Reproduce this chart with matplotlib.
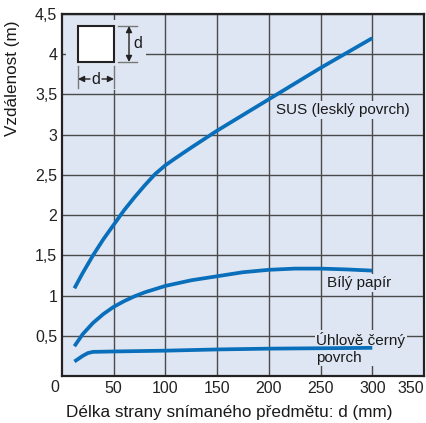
import matplotlib
matplotlib.use("Agg")
import matplotlib.pyplot as plt
from matplotlib.patches import Rectangle, FancyArrowPatch

plt.rcParams['font.family'] = ['Liberation Sans', 'DejaVu Sans']

# Detection distance vs. side length of the sensed object
sus_x = [12, 20, 30, 40, 50, 60, 70, 80, 90, 100, 110, 125, 150, 200, 250, 300]
sus_y = [1.09, 1.28, 1.50, 1.70, 1.88, 2.06, 2.22, 2.37, 2.51, 2.62, 2.71, 2.84, 3.05, 3.44, 3.83, 4.20]

paper_x = [12, 20, 30, 40, 50, 60, 70, 80, 100, 125, 150, 175, 200, 225, 250, 275, 300]
paper_y = [0.37, 0.52, 0.66, 0.77, 0.86, 0.93, 0.99, 1.04, 1.12, 1.19, 1.24, 1.29, 1.32, 1.335, 1.335, 1.325, 1.31]

black_x = [12, 20, 25, 30, 50, 100, 150, 200, 250, 300]
black_y = [0.18, 0.25, 0.285, 0.30, 0.305, 0.315, 0.33, 0.34, 0.345, 0.35]

x_ticks = [50, 100, 150, 200, 250, 300, 350]
x_ticklabels = ['50', '100', '150', '200', '250', '300', '350']
y_ticks = [0.5, 1, 1.5, 2, 2.5, 3, 3.5, 4, 4.5]
y_ticklabels = ['0,5', '1', '1,5', '2', '2,5', '3', '3,5', '4', '4,5']

bg = '#dfe6f3'
blue = '#0a6fba'
grid_c = '#4a4a4a'
txt_c = '#1a1a1a'

fig = plt.figure(figsize=(4.26, 4.23), dpi=100)
T = fig.transFigure
def fx(p): return p / 426
def fy(p): return 1 - p / 423

ax = fig.add_axes([fx(62), fy(376), fx(424) - fx(62), fy(14) - fy(376)])
ax.set_facecolor(bg)
ax.set_xlim(0, 350)
ax.set_ylim(0, 4.5)
ax.set_xticks(x_ticks)
ax.set_xticklabels(x_ticklabels)
ax.set_yticks(y_ticks)
ax.set_yticklabels(y_ticklabels)
ax.tick_params(length=0, labelsize=11.5, colors='#222222', pad=3.5)
ax.get_xticklabels()[-1].set_horizontalalignment('right')
ax.get_xticklabels()[-1].set_x(351)
ax.grid(True, color=grid_c, lw=1.0, zorder=1)
ax.set_axisbelow(True)
for s in ax.spines.values():
    s.set_color('#222222')
    s.set_linewidth(1.6)

ax.text(-7, -0.048, '0', ha='center', va='top', fontsize=11.5, color='#222222')

for xs, ys in [(sus_x, sus_y), (paper_x, paper_y), (black_x, black_y)]:
    ax.plot(xs, ys, color=blue, lw=2.7, solid_capstyle='butt', zorder=4)

box = dict(facecolor=bg, edgecolor='none', pad=1.5)
ax.text(207, 3.31, 'SUS (lesklý povrch)', fontsize=11, ha='left', va='center',
        color=txt_c, bbox=box, zorder=3)
ax.text(256, 1.16, 'Bílý papír', fontsize=11, ha='left', va='center',
        color=txt_c, bbox=box, zorder=3)
ax.text(246, 0.55, 'Úhlově černý\npovrch', fontsize=11, ha='left', va='top',
        color=txt_c, bbox=dict(facecolor=bg, edgecolor='none', pad=1.0),
        linespacing=1.25, zorder=3)

fig.text(fx(229.5), fy(412), 'Délka strany snímaného předmětu: d (mm)', fontsize=12.3,
         color=txt_c, ha='center', va='center')
fig.text(fx(13), fy(78), 'Vzdálenost (m)', fontsize=12.3, color=txt_c,
         ha='center', va='center', rotation=90)

# Inset sketch of the square target with its side length d
fig.patches.append(Rectangle((fx(66), fy(90)), fx(146) - fx(66), fy(20) - fy(90),
                             transform=T, facecolor=bg, edgecolor='none', zorder=2))
fig.patches.append(Rectangle((fx(78), fy(62)), fx(114) - fx(78), fy(26) - fy(62),
                             transform=T, facecolor='white', edgecolor='#222222', lw=1.5, zorder=3))
ext = '#777777'
for yy in (26, 62):
    fig.add_artist(plt.Line2D([fx(118), fx(137)], [fy(yy), fy(yy)], transform=T, color=ext, lw=1, zorder=3))
for xx in (78, 114):
    fig.add_artist(plt.Line2D([fx(xx), fx(xx)], [fy(66), fy(88)], transform=T, color=ext, lw=1, zorder=3))
fig.add_artist(FancyArrowPatch((fx(129), fy(26)), (fx(129), fy(62)), transform=T,
                               arrowstyle='<|-|>', mutation_scale=9, color='#222222', lw=1,
                               shrinkA=0, shrinkB=0, zorder=3))
fig.add_artist(FancyArrowPatch((fx(78), fy(79)), (fx(90), fy(79)), transform=T,
                               arrowstyle='<|-', mutation_scale=9, color='#222222', lw=1,
                               shrinkA=0, shrinkB=0, zorder=3))
fig.add_artist(FancyArrowPatch((fx(102), fy(79)), (fx(114), fy(79)), transform=T,
                               arrowstyle='-|>', mutation_scale=9, color='#222222', lw=1,
                               shrinkA=0, shrinkB=0, zorder=3))
fig.text(fx(96), fy(79), 'd', ha='center', va='center', fontsize=11.5, color=txt_c, zorder=4)
fig.text(fx(133), fy(44), 'd', ha='left', va='center', fontsize=11.5, color=txt_c, zorder=4)

fig.savefig('out.png', dpi=100, facecolor='white')
